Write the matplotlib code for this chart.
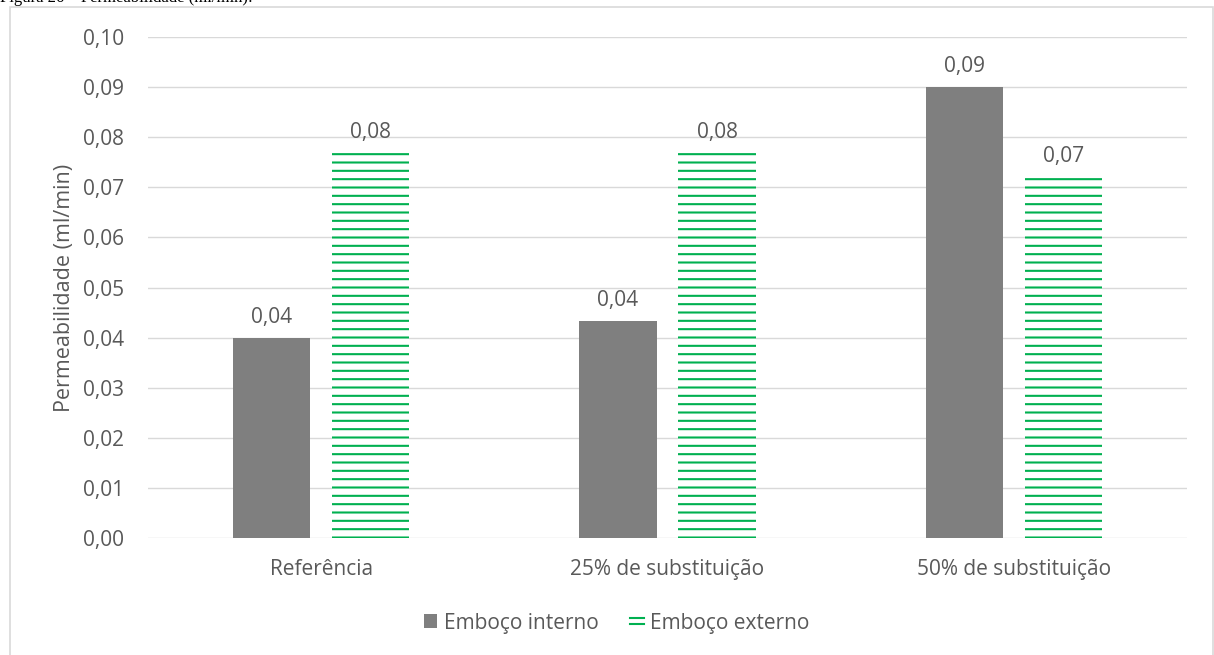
import matplotlib.pyplot as plt
from matplotlib.patches import Rectangle
from matplotlib.lines import Line2D
from matplotlib.legend_handler import HandlerBase
import numpy as np

# Permeability per mix (ml/min)
categories = ["Referência", "25% de substituição", "50% de substituição"]
emboco_interno = [0.040, 0.0433, 0.090]
emboco_externo = [0.077, 0.077, 0.0722]
series_names = ["Emboço interno", "Emboço externo"]
y_ticks = [0.00, 0.01, 0.02, 0.03, 0.04, 0.05, 0.06, 0.07, 0.08, 0.09, 0.10]

GRAY = "#7F7F7F"
GREEN = "#00B050"
TEXT = "#595959"
GRID = "#D9D9D9"
FS = 15

plt.rcParams['font.family'] = ['Open Sans', 'DejaVu Sans']
plt.rcParams['hatch.linewidth'] = 1.5


def fmt(v):
    return f"{v:.2f}".replace('.', ',')


class TwoLineHandler(HandlerBase):
    """Legend key drawn as two short horizontal lines."""
    def create_artists(self, legend, orig_handle, xdescent, ydescent,
                       width, height, fontsize, trans):
        lines = []
        for frac in (0.3, 0.75):
            y = height * frac - ydescent
            lines.append(Line2D([-xdescent, width - xdescent], [y, y],
                                color=GREEN, lw=1.5, transform=trans))
        return lines


fig = plt.figure(figsize=(12.14, 6.55), dpi=100)
ax = fig.add_axes([0.1219, 0.1786, 0.9778 - 0.1219, 0.9435 - 0.1786])

x = np.arange(len(categories))
width = 0.223
offset = 0.143

bars1 = ax.bar(x - offset, emboco_interno, width, color=GRAY, linewidth=0, zorder=3)
bars2 = ax.bar(x + offset, emboco_externo, width, color="white", edgecolor=GREEN,
               hatch="--", linewidth=0, zorder=3)

for bars, vals in ((bars1, emboco_interno), (bars2, emboco_externo)):
    for b, v in zip(bars, vals):
        ax.annotate(fmt(v), (b.get_x() + b.get_width() / 2, v),
                    xytext=(0, 7), textcoords="offset points",
                    ha="center", va="bottom", fontsize=FS, color=TEXT)

ax.set_xlim(-0.5, 2.5)
ax.set_ylim(0, 0.10)
ax.set_yticks(y_ticks)
ax.set_yticklabels([fmt(t) for t in y_ticks])
ax.set_xticks(x)
ax.set_xticklabels(categories)
ax.tick_params(axis='both', length=0, labelsize=FS, labelcolor=TEXT)
ax.tick_params(axis='y', pad=17)
ax.tick_params(axis='x', pad=15)
ax.grid(axis='y', color=GRID, linewidth=1.0, zorder=0)
ax.set_axisbelow(True)
for s in ax.spines.values():
    s.set_visible(False)

ax.set_ylabel("Permeabilidade (ml/min)", fontsize=15.5, color=TEXT, labelpad=6)

# Legend
h1 = Rectangle((0, 0), 1, 1, facecolor=GRAY, edgecolor='none')
h2 = Rectangle((0, 0), 1, 1, facecolor='none', edgecolor='none')
fig.legend([h1, h2], series_names, loc='center', bbox_to_anchor=(0.508, 1 - 623 / 655),
           ncol=2, frameon=False, fontsize=FS, labelcolor=TEXT,
           handlelength=0.65, handleheight=0.65, handletextpad=0.33, columnspacing=1.5,
           handler_map={h2: TwoLineHandler()})

# Chart border and clipped caption
fig.patches.append(Rectangle((10 / 1214, -0.05), (1213 - 10) / 1214, 0.05 + 1 - 7 / 655,
                             transform=fig.transFigure, fill=False,
                             edgecolor=GRID, linewidth=1.2))
fig.text(0.0, 1 - 1.5 / 655, "Figura 26 – Permeabilidade (ml/min):",
         family=['Liberation Serif', 'DejaVu Serif'], fontsize=12, color="black",
         ha='left', va='baseline')

fig.savefig("out.png", dpi=100)
